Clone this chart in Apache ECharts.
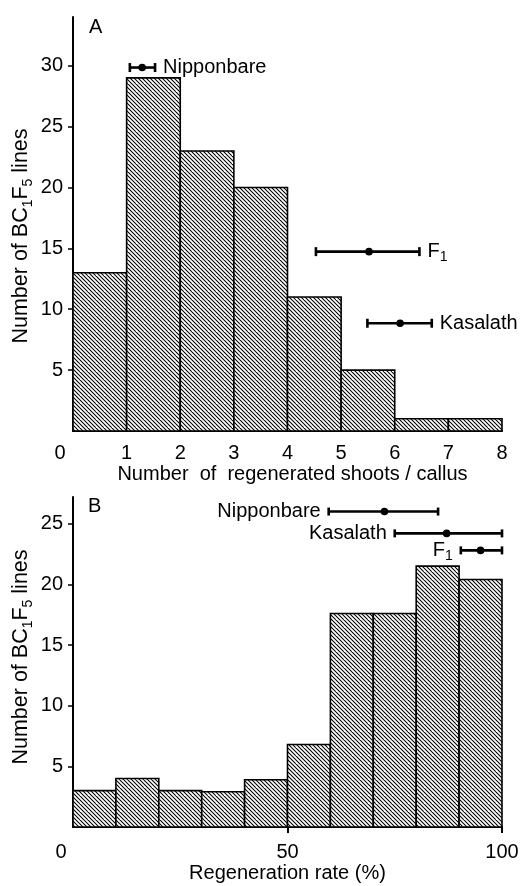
<!DOCTYPE html>
<html>
<head>
<meta charset="utf-8">
<script src="https://cdn.jsdelivr.net/npm/echarts@6/dist/echarts.min.js"></script>
<style>html,body{margin:0;padding:0;background:#fff;}#c{width:523px;height:886px;}</style>
</head>
<body>
<div id="c"></div>
<script>
// ---- Panel A data ----
const aBinEdges = [0, 1, 2, 3, 4, 5, 6, 7, 8];
const aCounts = [13, 29, 23, 20, 11, 5, 1, 1];
const aNames = ['Nipponbare', 'F{s|1}', 'Kasalath'];
const aMeans = [1.29, 5.52, 6.10];
const aLows = [1.06, 4.53, 5.49];
const aHighs = [1.53, 6.46, 6.69];
const aRowY = [29.85, 14.73, 8.85];
const aYTicks = [5, 10, 15, 20, 25, 30];
const aXTicks = [0, 1, 2, 3, 4, 5, 6, 7, 8];

// ---- Panel B data ----
const bBinEdges = [0, 10, 20, 30, 40, 50, 60, 70, 80, 90, 100];
const bCounts = [3, 4, 3, 2.9, 3.9, 6.8, 17.6, 17.6, 21.5, 20.4];
const bNames = ['Nipponbare', 'Kasalath', 'F{s|1}'];
const bMeans = [72.6, 87.1, 95.0];
const bLows = [59.6, 75.0, 90.4];
const bHighs = [85.1, 100, 100];
const bRowY = [26.0, 24.2, 22.8];
const bYTicks = [5, 10, 15, 20, 25];
const bXTicks = [0, 50, 100];

const FONT = '"Liberation Sans", Arial, Helvetica, sans-serif';

// hatch pattern
const pc = document.createElement('canvas');
pc.width = 8; pc.height = 8;
const g = pc.getContext('2d');
g.fillStyle = '#fff'; g.fillRect(0, 0, 8, 8);
g.strokeStyle = '#000'; g.lineWidth = 1.05;
for (let k = -3; k <= 3; k++) {
  g.beginPath(); g.moveTo(-2, -2 + k * 4); g.lineTo(10, 10 + k * 4); g.stroke();
}
const hatch = { image: pc, repeat: 'repeat' };

function histData(edges, counts) {
  return counts.map((c, i) => [edges[i], edges[i + 1], c]);
}
function histItem(params, api) {
  const p0 = api.coord([api.value(0), 0]);
  const p1 = api.coord([api.value(1), api.value(2)]);
  return {
    type: 'rect',
    shape: { x: p0[0], y: p1[1], width: p1[0] - p0[0], height: p0[1] - p1[1] },
    style: { fill: hatch, stroke: '#000', lineWidth: 1.6 }
  };
}
const subRich = {
  s: { fontSize: 14, lineHeight: 14, verticalAlign: 'bottom', fontFamily: FONT, fill: '#000', color: '#000' }
};
function errData(means, lows, highs, ys) {
  return means.map((m, i) => [m, lows[i], highs[i], ys[i]]);
}
function errRender(names, side, lw, capH) {
  return function (params, api) {
    const c = api.coord([api.value(0), api.value(3)]);
    const l = api.coord([api.value(1), api.value(3)]);
    const h = api.coord([api.value(2), api.value(3)]);
    const name = names[params.dataIndex];
    const y = c[1];
    const textX = side === 'right' ? h[0] + 8 : l[0] - 8;
    return {
      type: 'group',
      children: [
        { type: 'line', shape: { x1: l[0], y1: y, x2: h[0], y2: y }, style: { stroke: '#000', lineWidth: lw } },
        { type: 'line', shape: { x1: l[0], y1: y - capH / 2, x2: l[0], y2: y + capH / 2 }, style: { stroke: '#000', lineWidth: lw } },
        { type: 'line', shape: { x1: h[0], y1: y - capH / 2, x2: h[0], y2: y + capH / 2 }, style: { stroke: '#000', lineWidth: lw } },
        { type: 'circle', shape: { cx: c[0], cy: y, r: 3.8 }, style: { fill: '#000' } },
        { type: 'text', x: textX, y: y, style: {
            text: name, fontSize: 20, fontFamily: FONT, fill: '#000', lineHeight: 26,
            align: side === 'right' ? 'left' : 'right', verticalAlign: 'middle', rich: subRich } }
      ]
    };
  };
}
const yName = 'Number of BC{s|1}F{s|5} lines';

const chart = echarts.init(document.getElementById('c'), null, { renderer: 'canvas' });
const axisLineStyle = { color: '#000', width: 2 };
chart.setOption({
  animation: false,
  backgroundColor: '#fff',
  grid: [
    { left: 73, top: 17, width: 429, height: 414, containLabel: false, outerBoundsMode: 'none' },
    { left: 73, top: 497, width: 429, height: 330, containLabel: false, outerBoundsMode: 'none' }
  ],
  graphic: [
    { type: 'text', left: 89, top: 17, style: { text: 'A', fontSize: 20, fontFamily: FONT, fill: '#000' } },
    { type: 'text', left: 88, top: 496, style: { text: 'B', fontSize: 20, fontFamily: FONT, fill: '#000' } }
  ],
  xAxis: [
    {
      gridIndex: 0, type: 'value', min: 0, max: 8, interval: 1,
      axisLine: { lineStyle: axisLineStyle }, axisTick: { show: false }, splitLine: { show: false },
      axisLabel: { margin: 12, fontSize: 20, fontFamily: FONT, color: '#000', customValues: aXTicks,
        formatter: v => v === 0 ? '{z|0}' : String(v),
        rich: { z: { fontSize: 20, fontFamily: FONT, color: '#000', padding: [0, 26, 0, 0] } } },
      name: 'Number  of  regenerated shoots / callus', nameLocation: 'middle', nameGap: 33,
      nameTextStyle: { fontSize: 20, fontFamily: FONT, color: '#000', padding: [0, 0, 0, 10] }
    },
    {
      gridIndex: 1, type: 'value', min: 0, max: 100, interval: 50,
      axisLine: { lineStyle: axisLineStyle },
      axisTick: { show: true, inside: false, length: 6, lineStyle: { color: '#000', width: 2 }, customValues: [50, 100] },
      splitLine: { show: false },
      axisLabel: { margin: 15, fontSize: 20, fontFamily: FONT, color: '#000', customValues: bXTicks,
        formatter: v => v === 0 ? '{z|0}' : String(v),
        rich: { z: { fontSize: 20, fontFamily: FONT, color: '#000', padding: [0, 24, 0, 0] } } },
      name: 'Regeneration rate (%)', nameLocation: 'middle', nameGap: 36,
      nameTextStyle: { fontSize: 20, fontFamily: FONT, color: '#000' }
    }
  ],
  yAxis: [
    {
      gridIndex: 0, type: 'value', min: 0, max: 34, interval: 5,
      axisLine: { show: true, lineStyle: axisLineStyle },
      axisTick: { show: true, length: 5, lineStyle: { color: '#000', width: 1.5 }, customValues: aYTicks },
      splitLine: { show: false },
      axisLabel: { margin: 10, fontSize: 20, fontFamily: FONT, color: '#000', customValues: aYTicks },
      name: yName, nameLocation: 'middle', nameGap: 38, nameMoveOverlap: false,
      nameTextStyle: { fontSize: 21.5, fontFamily: FONT, color: '#000', lineHeight: 28, padding: [0, 24, 0, 0], rich: subRich }
    },
    {
      gridIndex: 1, type: 'value', min: 0, max: 27.2, interval: 5,
      axisLine: { show: true, lineStyle: axisLineStyle },
      axisTick: { show: true, length: 5, lineStyle: { color: '#000', width: 1.5 }, customValues: bYTicks },
      splitLine: { show: false },
      axisLabel: { margin: 10, fontSize: 20, fontFamily: FONT, color: '#000', customValues: bYTicks },
      name: yName, nameLocation: 'middle', nameGap: 38, nameMoveOverlap: false,
      nameTextStyle: { fontSize: 21.5, fontFamily: FONT, color: '#000', lineHeight: 28, padding: [0, 0, 0, 10], rich: subRich }
    }
  ],
  series: [
    { type: 'custom', xAxisIndex: 0, yAxisIndex: 0, renderItem: histItem, data: histData(aBinEdges, aCounts), clip: false, z: 2 },
    { type: 'custom', xAxisIndex: 0, yAxisIndex: 0, renderItem: errRender(aNames, 'right', 2.6, 9), data: errData(aMeans, aLows, aHighs, aRowY), clip: false, z: 3 },
    { type: 'custom', xAxisIndex: 1, yAxisIndex: 1, renderItem: histItem, data: histData(bBinEdges, bCounts), clip: false, z: 2 },
    { type: 'custom', xAxisIndex: 1, yAxisIndex: 1, renderItem: errRender(bNames, 'left', 2.6, 8), data: errData(bMeans, bLows, bHighs, bRowY), clip: false, z: 3 }
  ]
});
</script>
</body>
</html>
